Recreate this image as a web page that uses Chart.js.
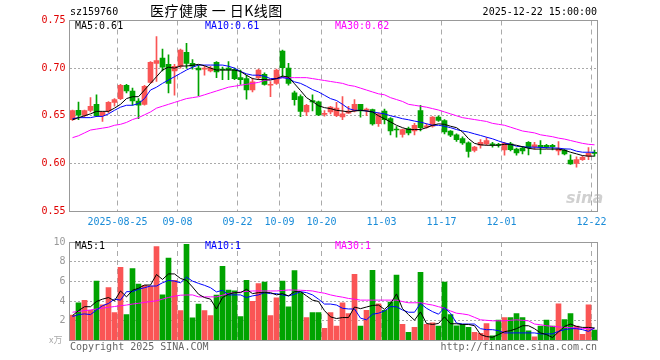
<!DOCTYPE html>
<html>
<head>
<meta charset="utf-8">
<script src="https://cdn.jsdelivr.net/npm/chart.js@4.4.1/dist/chart.umd.min.js"></script>
<style>
  body { margin: 0; background: #fff; }
  #wrap { position: relative; width: 660px; height: 360px; overflow: hidden; background: #fff; }
  canvas { position: absolute; left: 0; }
  .t { position: absolute; font-family: 'DejaVu Sans Mono', monospace; font-size: 10px; line-height: 12px; white-space: nowrap; }
</style>
</head>
<body>
<div id="wrap">
  <canvas id="priceChart" width="660" height="232" style="top:0"></canvas>
  <canvas id="volChart" width="660" height="128" style="top:232px"></canvas>

  <div class="t" style="left:70px;top:6px;color:#000">sz159760</div>
  <div class="t" style="left:150px;top:2px;font-family:'Noto Sans CJK SC';font-size:14px;line-height:17px;letter-spacing:0.5px;color:#000">医疗健康 一 日K线图</div>
  <div class="t" style="right:63px;top:6px;color:#000">2025-12-22 15:00:00</div>

  <div class="t" style="left:75px;top:20px;color:#000">MA5:0.61</div>
  <div class="t" style="left:205px;top:20px;color:#0000ff">MA10:0.61</div>
  <div class="t" style="left:335px;top:20px;color:#ff00ff">MA30:0.62</div>

  <div class="t" style="left:566px;top:188px;font-family:'DejaVu Sans';font-style:italic;font-weight:bold;font-size:16px;line-height:20px;color:rgba(170,170,170,0.55)">sina</div>

  <div class="t" style="left:75px;top:240px;color:#000">MA5:1</div>
  <div class="t" style="left:205px;top:240px;color:#0000ff">MA10:1</div>
  <div class="t" style="left:335px;top:240px;color:#ff00ff">MA30:1</div>

  <div class="t" style="left:49px;top:334px;font-family:'Noto Sans CJK SC';font-size:9px;color:#aaa">x万</div>
  <div class="t" style="left:70px;top:341px;color:#666">Copyright 2025 SINA.COM</div>
  <div class="t" style="right:63px;top:341px;color:#666">http://finance.sina.com.cn</div>
</div>
<script>
// trading days shown
var dates = [
  '2025-08-13','2025-08-14','2025-08-15','2025-08-18','2025-08-19','2025-08-20','2025-08-21','2025-08-22','2025-08-25','2025-08-26',
  '2025-08-27','2025-08-28','2025-08-29','2025-09-01','2025-09-02','2025-09-03','2025-09-04','2025-09-05','2025-09-08','2025-09-09',
  '2025-09-10','2025-09-11','2025-09-12','2025-09-15','2025-09-16','2025-09-17','2025-09-18','2025-09-19','2025-09-22','2025-09-23',
  '2025-09-24','2025-09-25','2025-09-26','2025-09-29','2025-09-30','2025-10-09','2025-10-10','2025-10-13','2025-10-14','2025-10-15',
  '2025-10-16','2025-10-17','2025-10-20','2025-10-21','2025-10-22','2025-10-23','2025-10-24','2025-10-27','2025-10-28','2025-10-29',
  '2025-10-30','2025-10-31','2025-11-03','2025-11-04','2025-11-05','2025-11-06','2025-11-07','2025-11-10','2025-11-11','2025-11-12',
  '2025-11-13','2025-11-14','2025-11-17','2025-11-18','2025-11-19','2025-11-20','2025-11-21','2025-11-24','2025-11-25','2025-11-26',
  '2025-11-27','2025-11-28','2025-12-01','2025-12-02','2025-12-03','2025-12-04','2025-12-05','2025-12-08','2025-12-09','2025-12-10',
  '2025-12-11','2025-12-12','2025-12-15','2025-12-16','2025-12-17','2025-12-18','2025-12-19','2025-12-22'
];

// dates that get a label + grid line
var tickDates  = ['2025-08-25','2025-09-08','2025-09-22','2025-10-09','2025-10-20','2025-11-03','2025-11-17','2025-12-01','2025-12-22'];
var tickLabels = ['2025-08-25','09-08','09-22','10-09','10-20','11-03','11-17','12-01','12-22'];

var opens = [0.646,0.6557,0.6505,0.6557,0.662,0.650,0.655,0.664,0.668,0.682,
  0.676,0.6655,0.662,0.685,0.705,0.7105,0.704,0.697,0.702,0.7165,
  0.705,0.700,0.699,0.697,0.706,0.699,0.700,0.6985,0.690,0.689,
  0.677,0.690,0.6935,0.682,0.684,0.718,0.700,0.674,0.670,0.654,
  0.666,0.6645,0.6515,0.654,0.650,0.6488,0.6528,0.655,0.662,0.6555,
  0.6565,0.6416,0.655,0.647,0.6355,0.6305,0.6365,0.634,0.6555,0.638,
  0.639,0.6485,0.645,0.634,0.630,0.626,0.6215,0.6135,0.619,0.6205,
  0.6205,0.620,0.614,0.6205,0.615,0.616,0.622,0.6175,0.619,0.619,
  0.619,0.613,0.614,0.6035,0.600,0.604,0.6075,0.611];
var highs = [0.656,0.6644,0.656,0.669,0.672,0.654,0.665,0.668,0.683,0.683,
  0.679,0.668,0.682,0.707,0.733,0.720,0.714,0.704,0.720,0.726,
  0.709,0.703,0.702,0.702,0.707,0.701,0.707,0.700,0.698,0.6925,
  0.6895,0.699,0.695,0.686,0.699,0.719,0.705,0.676,0.672,0.662,
  0.672,0.6655,0.6555,0.660,0.664,0.670,0.660,0.667,0.662,0.658,
  0.657,0.653,0.657,0.648,0.6385,0.636,0.638,0.642,0.661,0.6415,
  0.649,0.650,0.646,0.6345,0.631,0.628,0.6225,0.618,0.625,0.627,
  0.622,0.621,0.622,0.622,0.616,0.618,0.623,0.622,0.624,0.620,
  0.620,0.623,0.615,0.609,0.607,0.608,0.6165,0.614];
var lows = [0.645,0.6458,0.648,0.654,0.649,0.644,0.653,0.660,0.667,0.674,
  0.661,0.647,0.661,0.684,0.686,0.697,0.674,0.6715,0.700,0.700,
  0.699,0.671,0.6925,0.696,0.690,0.688,0.688,0.688,0.683,0.6675,
  0.675,0.688,0.682,0.670,0.683,0.691,0.682,0.661,0.649,0.650,
  0.655,0.650,0.6495,0.652,0.649,0.646,0.6525,0.654,0.6486,0.650,
  0.640,0.6388,0.6415,0.630,0.6275,0.6275,0.630,0.630,0.634,0.637,
  0.638,0.644,0.631,0.628,0.623,0.620,0.6065,0.612,0.616,0.619,
  0.617,0.617,0.6085,0.613,0.6085,0.610,0.609,0.615,0.610,0.616,
  0.614,0.609,0.609,0.599,0.596,0.603,0.604,0.6075];
var closes = [0.6555,0.6507,0.6555,0.6598,0.650,0.6535,0.664,0.667,0.682,0.676,
  0.6655,0.661,0.681,0.706,0.708,0.701,0.684,0.702,0.719,0.705,
  0.702,0.698,0.6995,0.700,0.696,0.698,0.698,0.689,0.688,0.677,
  0.6855,0.698,0.683,0.6822,0.698,0.7005,0.684,0.667,0.6545,0.661,
  0.6645,0.651,0.652,0.659,0.658,0.652,0.655,0.662,0.655,0.657,
  0.6415,0.652,0.646,0.634,0.635,0.6355,0.632,0.640,0.6375,0.6395,
  0.6485,0.645,0.633,0.6295,0.625,0.6215,0.6125,0.617,0.6222,0.624,
  0.619,0.619,0.621,0.6145,0.611,0.613,0.6165,0.6195,0.617,0.617,
  0.6175,0.615,0.610,0.5995,0.604,0.6063,0.6105,0.6105];

var ma5 = [0.6458,0.648,0.650,0.652,0.6546,0.6546,0.6546,0.658,0.662,0.668,
  0.670,0.670,0.677,0.684,0.691,0.698,0.701,0.700,0.7022,0.7022,
  0.703,0.704,0.7025,0.700,0.698,0.698,0.698,0.698,0.6965,0.6925,
  0.689,0.688,0.688,0.6875,0.689,0.6917,0.6905,0.6836,0.6765,0.669,
  0.665,0.6605,0.6585,0.6575,0.6557,0.655,0.654,0.655,0.6557,0.655,
  0.654,0.650,0.6468,0.6435,0.640,0.6375,0.6355,0.6355,0.6355,0.6375,
  0.640,0.6415,0.641,0.639,0.6375,0.633,0.626,0.621,0.6195,0.619,
  0.619,0.619,0.620,0.620,0.619,0.6175,0.6158,0.615,0.615,0.615,
  0.615,0.615,0.6138,0.6117,0.610,0.6082,0.6076,0.6076];
var ma10 = [0.6469,0.648,0.648,0.648,0.6493,0.6493,0.652,0.6557,0.659,0.661,
  0.661,0.6628,0.668,0.677,0.680,0.684,0.6875,0.691,0.6945,0.698,
  0.701,0.7032,0.7032,0.7032,0.7032,0.7032,0.702,0.700,0.6965,0.694,
  0.6926,0.6926,0.6915,0.689,0.689,0.690,0.689,0.6856,0.684,0.681,
  0.6775,0.675,0.6715,0.668,0.666,0.662,0.6575,0.6557,0.6557,0.655,
  0.654,0.653,0.652,0.650,0.6486,0.6469,0.6458,0.6444,0.6433,0.6416,
  0.640,0.640,0.639,0.6375,0.6355,0.634,0.6328,0.631,0.6293,0.6275,
  0.6258,0.6235,0.6215,0.620,0.618,0.6175,0.617,0.617,0.6168,0.6165,
  0.6163,0.616,0.6152,0.615,0.6128,0.6117,0.6117,0.6117];
var ma30 = [0.627,0.629,0.632,0.635,0.636,0.637,0.638,0.640,0.641,0.643,
  0.646,0.648,0.651,0.654,0.658,0.660,0.662,0.664,0.666,0.668,
  0.669,0.670,0.672,0.674,0.676,0.678,0.680,0.681,0.682,0.683,
  0.684,0.685,0.687,0.688,0.689,0.690,0.690,0.690,0.690,0.690,
  0.689,0.688,0.687,0.686,0.685,0.684,0.682,0.681,0.679,0.677,
  0.675,0.673,0.672,0.669,0.667,0.665,0.662,0.661,0.660,0.659,
  0.6575,0.656,0.654,0.652,0.650,0.648,0.647,0.646,0.645,0.644,
  0.642,0.641,0.640,0.638,0.636,0.634,0.633,0.632,0.630,0.629,
  0.628,0.6265,0.6255,0.624,0.6225,0.621,0.620,0.6195];

// volume, in 万
var volumes = [2.57,3.83,4.07,3.07,6.03,3.63,5.37,2.83,7.43,2.63,
  7.3,5.73,5.6,5.53,9.53,4.63,8.36,6.1,3.03,9.77,
  2.3,3.7,3.03,2.53,4.6,7.53,5.13,5.03,2.43,6.1,
  3.97,5.77,5.93,2.53,4.33,6.03,3.43,7.1,4.87,2.33,
  2.83,2.83,1.23,2.83,1.47,3.83,2.73,6.73,1.47,3.07,
  7.13,3.73,3.07,3.9,6.63,1.63,0.83,1.33,6.93,1.63,
  1.8,1.47,5.93,2.63,1.5,1.63,1.33,0.83,0.73,1.73,
  0.47,2.07,2.33,2.33,2.73,2.33,0.97,0.37,1.47,2.07,
  1.47,3.73,2.13,2.73,1.47,0.63,3.63,1.07];
var volMa5 = [2.53,3.03,3.43,3.43,3.96,4.2,4.36,4.03,5.03,4.43,
  5.1,5.3,5.63,5.63,6.7,6.2,6.76,6.76,6.3,6.1,
  5.43,4.7,4.36,4.2,3.2,4.36,4.7,4.86,4.86,5.2,
  4.76,4.86,4.86,4.86,4.63,4.76,4.53,4.96,4.96,4.53,
  4.1,3.96,3.03,2.4,2.23,2.33,2.33,3.4,3.23,3.4,
  3.56,3.6,3.16,3.73,4.73,3.23,2.63,2.06,2.9,1.73,
  1.63,1.73,2.4,1.7,1.7,1.63,1.63,1.5,0.6,0.4,
  0.33,0.6,0.9,1.0,1.2,1.5,1.5,1.2,0.77,0.6,
  0.3,0.87,1.43,1.67,1.43,1.33,1.33,1.27];
var volMa10 = [2.43,2.63,2.7,2.63,3.1,3.53,3.76,4.2,4.1,4.96,
  4.96,5.2,5.36,5.53,5.53,5.86,6.1,6.03,5.86,6.43,
  6.03,5.8,5.6,5.36,4.93,5.1,4.63,4.63,4.63,4.36,
  4.53,4.63,4.86,4.76,4.76,4.63,4.53,4.7,4.96,4.86,
  4.63,4.2,3.7,3.7,3.6,3.27,3.2,3.2,2.27,2.1,
  2.67,2.77,3.0,3.43,3.43,3.1,2.87,2.87,3.77,3.27,
  2.93,2.67,3.33,2.77,1.77,1.67,1.67,1.67,1.2,1.1,
  1.1,1.0,0.77,0.77,0.77,0.77,0.77,0.77,0.67,0.67,
  0.67,0.93,1.1,1.2,1.2,1.1,0.93,1.27];
var volMa30 = [2.87,2.95,3.03,3.1,3.2,3.28,3.37,3.45,3.53,3.6,
  3.7,3.78,3.87,3.95,4.03,4.2,4.37,4.5,4.6,4.62,
  4.63,4.43,4.43,4.43,4.43,4.6,4.77,4.85,4.93,4.98,
  5.03,5.03,5.03,5.03,5.03,5.08,5.13,5.12,5.1,5.07,
  5.03,4.9,4.8,4.63,4.5,4.4,4.27,4.2,4.1,4.1,
  4.1,4.1,4.1,4.1,4.1,3.95,3.83,3.83,3.83,3.7,
  3.6,3.43,3.27,3.0,2.77,2.7,2.6,2.35,2.1,2.05,
  2.0,2.0,2.0,2.05,2.1,2.05,2.0,1.67,1.6,1.5,
  1.43,1.38,1.33,1.3,1.27,1.23,1.2,1.17];

var RED = '#fa5555';
var GREEN = '#00a300';
var candleColors = closes.map(function (c, i) { return c >= opens[i] ? RED : GREEN; });
var bodies = opens.map(function (o, i) { return [o, closes[i]]; });
var wicks = lows.map(function (l, i) { return [l, highs[i]]; });

var monoFont = { family: 'DejaVu Sans Mono', size: 10 };

function isTick(index) {
    return tickDates.indexOf(dates[index]) >= 0;
}

// box around the plot area
var frame = {
    id: 'frame',
    afterDraw: function (chart) {
        var a = chart.chartArea, ctx = chart.ctx;
        ctx.save();
        ctx.strokeStyle = '#999';
        ctx.lineWidth = 1;
        var l = Math.floor(a.left) + 0.5, t = Math.floor(a.top) + 0.5;
        var r = Math.floor(a.right) + 0.5, b = Math.floor(a.bottom) + 0.5;
        ctx.strokeRect(l, t, r - l, b - t);
        ctx.restore();
    }
};

function lineSet(data, color) {
    return {
        type: 'line', data: data, borderColor: color, borderWidth: 1,
        pointRadius: 0, tension: 0, fill: false, order: 0
    };
}

function xGrid(ctx) {
    return (ctx.index < dates.length && isTick(ctx.index)) ? '#aaa' : 'rgba(0,0,0,0)';
}

new Chart(document.getElementById('priceChart'), {
    type: 'bar',
    data: {
        labels: dates,
        datasets: [
            lineSet(ma5, '#000000'),
            lineSet(ma10, '#0000ff'),
            lineSet(ma30, '#ff00ff'),
            { data: bodies, backgroundColor: candleColors, barThickness: 5, minBarLength: 1, grouped: false, order: 1 },
            { data: wicks, backgroundColor: candleColors, barThickness: 1, minBarLength: 1, grouped: false, order: 2 }
        ]
    },
    options: {
        responsive: false,
        animation: false,
        events: [],
        layout: { padding: { left: 0, right: 62.5, top: 20.5, bottom: 0 } },
        plugins: { legend: { display: false }, tooltip: { enabled: false } },
        scales: {
            x: {
                offset: true,
                grid: { offset: true, color: xGrid, drawTicks: false, lineWidth: 1 },
                border: { display: false, dash: [5, 4] },
                ticks: {
                    autoSkip: false, maxRotation: 0, padding: 5, labelOffset: -3,
                    color: '#1a8cd8', font: monoFont,
                    callback: function (v, i) {
                        var k = tickDates.indexOf(dates[i]);
                        return k >= 0 ? tickLabels[k] : '';
                    }
                },
                afterFit: function (s) { s.height = 21; }
            },
            y: {
                min: 0.55, max: 0.75,
                grid: { color: '#aaa', drawTicks: false },
                border: { display: false, dash: [2, 2] },
                ticks: {
                    stepSize: 0.05, padding: 4, color: '#e00000', font: monoFont,
                    callback: function (v) { return v.toFixed(2); }
                },
                afterFit: function (s) { s.width = 69.5; }
            }
        }
    },
    plugins: [frame]
});

new Chart(document.getElementById('volChart'), {
    type: 'bar',
    data: {
        labels: dates,
        datasets: [
            lineSet(volMa5, '#000000'),
            lineSet(volMa10, '#0000ff'),
            lineSet(volMa30, '#ff00ff'),
            { data: volumes, backgroundColor: candleColors, barThickness: 5, grouped: false, order: 1 }
        ]
    },
    options: {
        responsive: false,
        animation: false,
        events: [],
        layout: { padding: { left: 0, right: 62.5, top: 8.5, bottom: 19.5 } },
        plugins: { legend: { display: false }, tooltip: { enabled: false } },
        scales: {
            x: {
                offset: true,
                grid: { offset: true, color: xGrid, drawTicks: false },
                border: { display: false, dash: [5, 4] },
                ticks: { display: false }
            },
            y: {
                min: 0, max: 10,
                grid: { color: '#aaa', drawTicks: false },
                border: { display: false, dash: [2, 2] },
                ticks: {
                    stepSize: 2, padding: 4, color: '#999', font: monoFont,
                    callback: function (v) { return v === 0 ? '' : v; }
                },
                afterFit: function (s) { s.width = 69.5; }
            }
        }
    },
    plugins: [frame]
});
</script>
</body>
</html>
